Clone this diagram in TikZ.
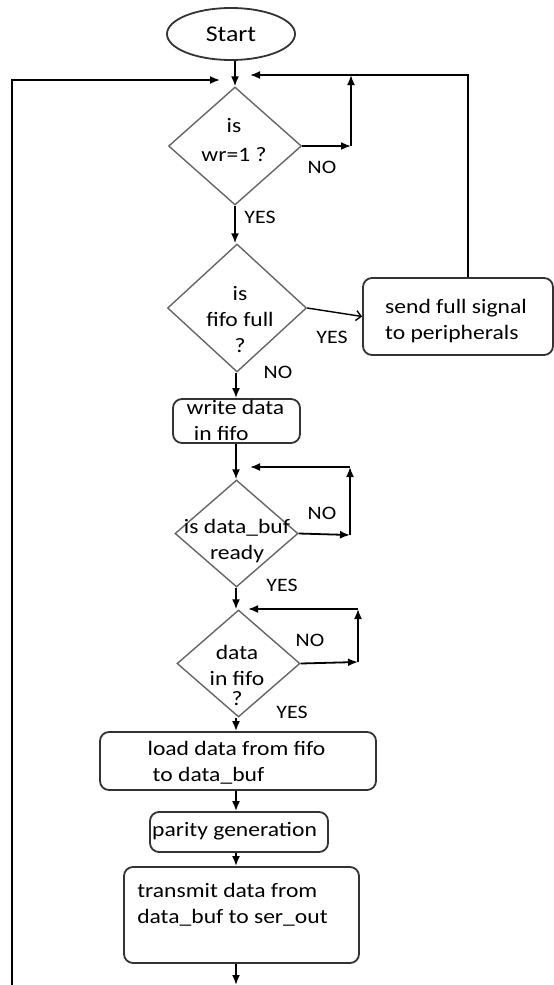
\documentclass[tikz,border=0pt]{standalone}
\usepackage{fontspec}
\setmainfont{Carlito}[FakeStretch=1.15]
\usetikzlibrary{shapes.geometric,arrows.meta}

\begin{document}
\begin{tikzpicture}[x=1bp,y=-1bp,
  flow/.style={draw=black, line width=1.8bp},
  arr/.style={flow, -{Latex[length=10bp,width=8bp]}},
  openarr/.style={draw=black, line width=1.4bp, -{Straight Barb[length=5bp,width=10bp]}},
  decision/.style={diamond, draw=black!60, line width=1.4bp, inner sep=0pt},
  stepbox/.style={rectangle, rounded corners=9bp, draw=black!80, line width=1.8bp, inner sep=0pt},
  terminal/.style={ellipse, draw=black!80, line width=1.8bp, inner sep=0pt,
    minimum width=128bp, minimum height=52bp},
  txt/.style={inner sep=0pt, text=black, font=\fontsize{20.5bp}{26bp}\selectfont},
  lbl/.style={inner sep=0pt, text=black, font=\fontsize{19bp}{20bp}\selectfont}]

% canvas
\fill[white] (0,0) rectangle (554,985);
\useasboundingbox (0,0) rectangle (554,985);

% main axis of the flow
\coordinate (axis) at (236,0);

% terminal
\node[terminal, font=\fontsize{22.5bp}{26bp}\selectfont, text=black] (start) at (231,34) {Start};

% decisions
\node[decision, minimum width=133bp, minimum height=118bp] (d1) at (235,146) {};
\node[txt, align=center] (d1t) at (234,140) {is\\[3bp]wr=1 ?};

\node[decision, minimum width=139bp, minimum height=128bp] (d2) at (237,308) {};
\node[txt, align=center] (d2t) at (240,320) {is\\fifo full\\?};

\node[decision, minimum width=123bp, minimum height=107bp] (d3) at (236.5,533.5) {};
\node[txt, align=center] (d3t) at (237,541) {is data\_buf\\ready};

\node[decision, minimum width=123bp, minimum height=107bp] (d4) at (238.5,663.5) {};
\node[txt, align=center] (d4t) at (237,675) {data\\in fifo\\[-6bp]?};

% process steps
\node[stepbox, minimum width=190bp, minimum height=77bp] (send) at (458,316.5) {};
\node[txt, align=left] (sendt) at (456,321) {send full signal\\to peripherals};

\node[stepbox, minimum width=127bp, minimum height=44bp] (write) at (236.5,421) {};
\node[txt, align=left] (writet) at (235.5,420.5) {write data\\\hspace*{0.35em}in fifo};

\node[stepbox, minimum width=276bp, minimum height=58bp] (load) at (238,761) {};
\node[txt, align=left] (loadt) at (236.5,763) {load data from fifo\\\hspace*{0.25em}to data\_buf};

\node[stepbox, minimum width=178bp, minimum height=40bp] (parity) at (239,832) {};
\node[txt] (parityt) at (234.5,831) {parity generation};

\node[stepbox, minimum width=235bp, minimum height=96bp] (tx) at (241.5,915) {};
\node[txt, align=left] (txt1) at (232.5,905) {transmit data from\\data\_buf to ser\_out};

% branch labels
\node[lbl] (no1) at (322,167) {NO};
\node[lbl] (yes1) at (260,217) {YES};
\node[lbl] (yes2) at (332,337) {YES};
\node[lbl] (no2) at (278,372) {NO};
\node[lbl] (no3) at (322,513) {NO};
\node[lbl] (yes3) at (282,585) {YES};
\node[lbl] (no4) at (310,640) {NO};
\node[lbl] (yes4) at (292,712) {YES};

% loop corners and free ends
\coordinate (jl) at (220,80);
\coordinate (jr) at (250,75);
\coordinate (n1) at (351,146);
\coordinate (n3) at (350,535);
\coordinate (n3t) at (350,467);
\coordinate (j3) at (250,467);
\coordinate (n4) at (358,662);
\coordinate (n4t) at (358,609);
\coordinate (j4) at (248,609);
\coordinate (leftbot) at (12,986);
\coordinate (bottomend) at (236,985);

% main flow
\draw[arr] (start.south -| d1.north) -- (d1.north);
\draw[arr] (d1.south) -- (d1.south |- d2.north);
\draw[arr] (d2.south -| axis) -- (write.north -| axis);
\draw[arr] (write.south -| axis) -- (d3.north -| axis);
\draw[arr] (d3.south -| axis) -- (d4.north -| axis);
\draw[arr] (d4.south -| axis) -- (load.north -| axis);
\draw[arr] (load.south -| axis) -- (parity.north -| axis);
\draw[arr] (parity.south -| axis) -- (tx.north -| axis);
\draw[arr] (tx.south -| axis) -- (bottomend);

% fifo full branch
\draw[openarr] (d2.east) -- (send.west);
\draw[flow] ([xshift=10bp]send.north) |- (n1 |- jr);
\draw[arr] (n1 |- jr) -- (jr);

% wait loops
\draw[arr] (d1.east) -- (n1);
\draw[arr] (n1) -- (n1 |- jr);
\draw[arr] (d3.east) -- (n3);
\draw[arr] (n3) -- (n3t);
\draw[arr] (n3t) -- (j3);
\draw[arr] (d4.east) -- (n4);
\draw[arr] (n4) -- (n4t);
\draw[arr] (n4t) -- (j4);

% return path to the top
\draw[arr] (leftbot) |- (jl);

\end{tikzpicture}
\end{document}
